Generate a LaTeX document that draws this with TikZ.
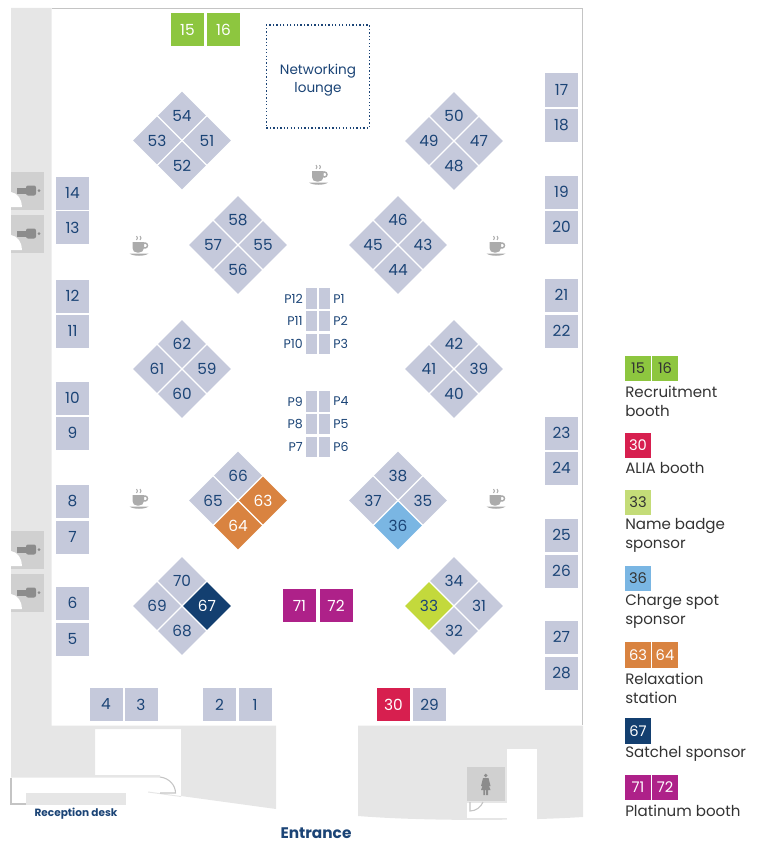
\documentclass[tikz,border=0pt]{standalone}
\usepackage{fontspec}
\setmainfont{Poppins}
\usetikzlibrary{shapes.geometric}
\definecolor{navy}{HTML}{1B4476}
\definecolor{slotgrey}{HTML}{C5C9DB}
\definecolor{wallgrey}{HTML}{E6E6E6}
\definecolor{closetgrey}{HTML}{D0D0D0}
\definecolor{linegrey}{HTML}{C4C4C4}
\definecolor{icongrey}{HTML}{8C8C8C}
\definecolor{cupgrey}{HTML}{ABABAB}
\definecolor{legendtext}{HTML}{333333}
\definecolor{recruit}{HTML}{8DC63F}
\definecolor{alia}{HTML}{D71F4F}
\definecolor{badge}{HTML}{C3D93C}
\definecolor{badgelight}{HTML}{C4DC78}
\definecolor{charge}{HTML}{7AB6E3}
\definecolor{relax}{HTML}{D98340}
\definecolor{satchel}{HTML}{133F70}
\definecolor{platinum}{HTML}{AE2189}
\tikzset{
    booth/.style={rectangle,fill=slotgrey,text=navy,inner sep=0pt,minimum size=24.75pt,font=\fontsize{11.5}{12}\selectfont},
    plot/.style={diamond,fill=slotgrey,text=navy,inner sep=0pt,minimum size=36pt,font=\fontsize{11.5}{12}\selectfont},
    pole/.style={rectangle,fill=slotgrey,inner sep=0pt,minimum width=8.25pt,minimum height=15.4pt},
    polelabel/.style={text=navy,inner sep=0pt,font=\fontsize{9.4}{10}\selectfont},
    key/.style={rectangle,text=legendtext,inner sep=0pt,minimum width=19.5pt,minimum height=19pt,font=\fontsize{11}{12}\selectfont},
    keylabel/.style={anchor=west,align=left,text=legendtext,inner sep=0pt,font=\fontsize{11.3}{14.4}\selectfont},
    s15/.style={fill=recruit,text=white},
    s16/.style={fill=recruit,text=white},
    s30/.style={fill=alia,text=white},
    s33/.style={fill=badge},
    s36/.style={fill=charge},
    s63/.style={fill=relax,text=white},
    s64/.style={fill=relax,text=white},
    s67/.style={fill=satchel,text=white},
    s71/.style={fill=platinum,text=white},
    s72/.style={fill=platinum,text=white},
    cup/.pic={
        \fill[cupgrey] (-6.5,-12) -- (5,-12) -- (5,-6) .. controls (5,-3) and (2.5,-1.5) .. (0,-1.5) -- (-2,-1.5) .. controls (-4.5,-1.5) and (-6.5,-3) .. (-6.5,-6) -- cycle;
        \draw[cupgrey,line width=1.1pt] (6,-8.5) circle (2.5);
        \fill[cupgrey] (-9.5,-0.5) -- (9.5,-0.5) .. controls (6,2.5) and (-6,2.5) .. (-9.5,-0.5) -- cycle;
        \draw[cupgrey,line width=0.7pt] (-2.5,-18) -- (-1.5,-16) -- (-2.5,-14) (1,-18) -- (2,-16) -- (1,-14);
    },
    closet/.pic={
        \fill[closetgrey] (0,0) rectangle (33,38);
        \fill[white] (0,20) .. controls (7,21) and (11,28) .. (11,35) -- (0,35) -- cycle;
        \fill[icongrey] (6,15.5) rectangle (16,21.5);
        \fill[icongrey,rounded corners=1.5pt] (15,13.5) rectangle (25,23.5);
        \fill[icongrey] (28,18.5) circle (1.5);
    }
}

\begin{document}
\begin{tikzpicture}[x=0.75pt,y=-0.75pt]
    \useasboundingbox (0,0) rectangle (758,849);

    % walls
    \fill[wallgrey] (11,8) -- (51.5,8) -- (51.5,725.5) -- (276,725.5) -- (276,809) -- (181,796) -- (181,729) -- (95,729) -- (95,775) -- (160,775) -- (160,777.5) -- (11,777.5) -- cycle;
    \fill[wallgrey] (148,791.5) -- (181,796) -- (181,797) -- (148,792.5) -- cycle;
    \fill[wallgrey] (26,793) rectangle (126,805);
    \fill[wallgrey] (358,725.5) -- (583,725.5) -- (583,817) .. controls (520,821) and (420,821) .. (358,816) -- cycle;
    \fill[white] (507,749) rectangle (537,822);
    \fill[white] (467,803) rectangle (507,818);
    \draw[linegrey,line width=1.1pt] (51.5,8.5) -- (582.5,8.5) -- (582.5,725);
    \draw[linegrey,line width=0.8pt] (11,778) -- (11,804) -- (26,804);
    \draw[linegrey,line width=0.8pt] (160,777) .. controls (169,778) and (175.5,785) .. (175.5,793) -- (160,793);

    % closets, restroom
    \foreach \py in {172,215,531,574}
        \pic at (11,\py) {closet};
    \fill[closetgrey] (467,767) rectangle (505,801);
    \fill[icongrey] (485.7,775.5) circle (1.9);
    \fill[icongrey] (483,778) -- (488.5,778) -- (490.5,786) -- (489,786) -- (490.5,790) -- (488,790) -- (488,795) -- (486.2,795) -- (486.2,790) -- (485.2,790) -- (485.2,795) -- (483.4,795) -- (483.4,790) -- (481,790) -- (482.5,786) -- (481,786) -- cycle;
    \draw[linegrey,line width=0.8pt] (470,802) -- (470,811) .. controls (476,811) and (481,807) .. (483,802);

    % coffee points
    \foreach \cx/\cy in {318.5/183,139/254,496/254,139/507,496/507}
        \pic at (\cx,\cy) {cup};

    % booths
    \foreach \n/\cx/\cy in {
        14/72.5/193,13/72.5/227.5,12/72.5/296,11/72.5/331,10/72.5/398,9/72.5/433,8/72.5/501,7/72.5/537,6/72.5/603,5/72.5/639,
        17/561.5/90,18/561.5/125,19/561.5/192,20/561.5/227,21/561.5/295,22/561.5/331,23/561.5/433,24/561.5/468,25/561.5/535,26/561.5/571,27/561.5/637,28/561.5/673,
        4/106/704.5,3/141/704.5,2/219.5/704.5,1/255/704.5,30/393.5/704.5,29/429.5/704.5,
        15/187.5/30,16/223.5/30,71/299.5/605.5,72/336/605.5}
        \node[booth,s\n/.try] (b\n) at (\cx,\cy) {\n};

    % diamond islands
    \foreach \cx/\cy/\nt/\nl/\nb/\nr in {
        182/140.5/54/53/52/51,454/141/50/49/48/47,
        238/245/58/57/56/55,398/245/46/45/44/43,
        182/369/62/61/60/59,454/369/42/41/40/39,
        238/500.5/66/65/64/63,398/500.5/38/37/36/35,
        182/606/70/69/68/67,454/606/34/33/32/31}{
        \node[plot,s\nt/.try] (d\nt) at (\cx,\cy-25) {\nt};
        \node[plot,s\nl/.try] (d\nl) at (\cx-25,\cy) {\nl};
        \node[plot,s\nb/.try] (d\nb) at (\cx,\cy+25) {\nb};
        \node[plot,s\nr/.try] (d\nr) at (\cx+25,\cy) {\nr};
    }

    % poster poles
    \foreach \la/\lb/\cy in {P12/P1/298.5,P11/P2/321,P10/P3/344,P9/P4/401.5,P8/P5/424,P7/P6/447}{
        \node[pole] (pole\la) at (311.5,\cy) {};
        \node[pole] (pole\lb) at (324.5,\cy) {};
        \node[polelabel,anchor=east] (label\la) at (303,\cy) {\la};
        \node[polelabel,anchor=west] (label\lb) at (333,\cy) {\lb};
    }

    % lounge
    \node[draw=navy,line width=1pt,dash pattern=on 1pt off 1.6pt,inner sep=0pt,minimum width=77.5pt,minimum height=77pt] (lounge) at (318,76.5) {};
    \node[text=navy,inner sep=0pt,align=center,font=\fontsize{10.2}{13}\selectfont] (loungetext) at (318,80) {Networking\\lounge};

    % labels
    \node[text=navy,inner sep=0pt,font=\fontsize{7.9}{9}\bfseries\selectfont] (desk) at (76,814) {Reception desk};
    \node[text=navy,inner sep=0pt,font=\fontsize{11.5}{13}\bfseries\selectfont] (entrance) at (316,833) {Entrance};

    % legend
    \node[key,fill=recruit] (k15) at (638,368.5) {15};
    \node[key,fill=recruit] (k16) at (665,368.5) {16};
    \node[keylabel] (lrecruit) at (625,401.5) {Recruitment\\booth};
    \node[key,fill=alia,text=white] (k30) at (638,445.5) {30};
    \node[keylabel] (lalia) at (625,468) {ALIA booth};
    \node[key,fill=badgelight] (k33) at (638,502.5) {33};
    \node[keylabel] (lbadge) at (625,535) {Name badge\\sponsor};
    \node[key,fill=charge] (k36) at (638,578.5) {36};
    \node[keylabel] (lcharge) at (625,611) {Charge spot\\sponsor};
    \node[key,fill=relax,text=white] (k63) at (638,655) {63};
    \node[key,fill=relax,text=white] (k64) at (665,655) {64};
    \node[keylabel] (lrelax) at (625,688) {Relaxation\\station};
    \node[key,fill=satchel,text=white] (k67) at (638,731) {67};
    \node[keylabel] (lsatchel) at (625,754) {Satchel sponsor};
    \node[key,fill=platinum,text=white] (k71) at (638,787.5) {71};
    \node[key,fill=platinum,text=white] (k72) at (665,787.5) {72};
    \node[keylabel] (lplatinum) at (625,811) {Platinum booth};
\end{tikzpicture}
\end{document}
